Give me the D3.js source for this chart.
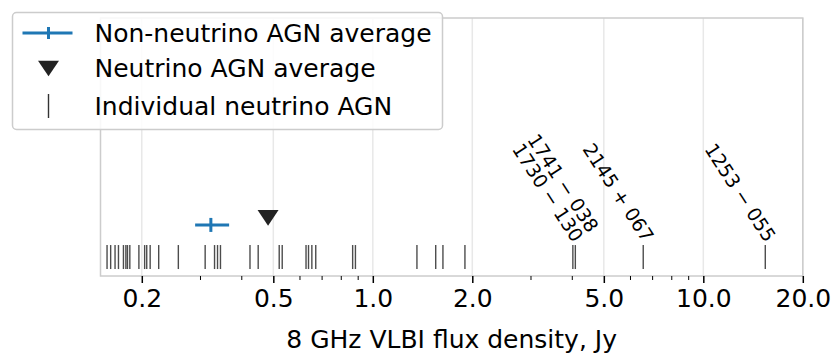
<!DOCTYPE html>
<html>
<head>
<meta charset="utf-8">
<script src="https://cdn.jsdelivr.net/npm/d3@7"></script>
<style>
  body { margin: 0; background: #fff; }
  svg { display: block; font-family: "DejaVu Sans", sans-serif; }
</style>
</head>
<body>
<svg id="chart"></svg>
<script>
// 8 GHz VLBI flux density of neutrino AGN

// individual neutrino AGN, Jy
const fluxes = [0.157, 0.161, 0.166, 0.170, 0.176, 0.179, 0.181, 0.184, 0.196, 0.204,
	0.207, 0.212, 0.225, 0.258, 0.311, 0.332, 0.339, 0.346, 0.425, 0.450,
	0.521, 0.532, 0.628, 0.639, 0.654, 0.672, 0.869, 0.886, 1.36, 1.55,
	1.63, 1.90, 4.03, 4.10, 6.58, 15.4];

// named sources
const labelNames = ["1730 \u2212 130", "1741 \u2212 038", "2145 + 067", "1253 \u2212 055"];
const labelFluxes = [4.03, 4.10, 6.58, 15.4];

// averages
const nonNuMean = 0.3236;
const nonNuErr = [0.290, 0.3675];
const nuMean = 0.482;

const tickValues = [0.2, 0.5, 1.0, 2.0, 5.0, 10.0, 20.0];
const minorTickValues = [0.3, 0.4, 0.6, 0.7, 0.8, 0.9, 3, 4, 6, 7, 8, 9];
const xDomain = [0.15, 20];

const legendLabels = ["Non-neutrino AGN average", "Neutrino AGN average", "Individual neutrino AGN"];

// y is only a dummy position axis
const yBar = [0.027, 0.12];
const yNonNu = 0.198;
const yNu = 0.225;
const yLabel = 0.126;

const width = 831, height = 354;
const margin = {left: 100.5, right: 28.2, top: 18, bottom: 78};

const svg = d3.select("#chart")
	.attr("width", width)
	.attr("height", height);

const x = d3.scaleLog()
	.domain(xDomain)
	.range([margin.left, width - margin.right]);

const y = d3.scaleLinear()
	.domain([0, 1])
	.range([height - margin.bottom, margin.top]);

const blue = "#1f77b4";

// downward triangle like matplotlib's 'v', a bit wider than tall
const triDown = {
	draw(ctx, size) {
		let w = Math.sqrt(size) / 2, h = w * 0.75;
		ctx.moveTo(-w, -h);
		ctx.lineTo(w, -h);
		ctx.lineTo(0, h);
		ctx.closePath();
	}
};
const tri = d3.symbol().type(triDown).size(440);

// grid
svg.append("g")
	.selectAll("line")
	.data(tickValues)
	.join("line")
	.attr("x1", d => x(d)).attr("x2", d => x(d))
	.attr("y1", y(0)).attr("y2", y(1))
	.attr("stroke", "#e8e8e8")
	.attr("stroke-width", 1.5);

// frame
svg.append("rect")
	.attr("x", x(xDomain[0]))
	.attr("y", y(1))
	.attr("width", x(xDomain[1]) - x(xDomain[0]))
	.attr("height", y(0) - y(1))
	.attr("fill", "none")
	.attr("stroke", "#cccccc")
	.attr("stroke-width", 1.5);

// axis
const xAxis = d3.axisBottom(x)
	.tickValues(tickValues)
	.tickFormat(d3.format(".1f"))
	.tickSize(7)
	.tickPadding(6);

const axisG = svg.append("g")
	.attr("transform", `translate(0,${y(0)})`)
	.call(xAxis);
axisG.select(".domain").remove();
axisG.selectAll(".tick line").attr("stroke", "#000").attr("stroke-width", 1.5);
axisG.selectAll(".tick text")
	.attr("font-size", 25)
	.attr("font-family", "DejaVu Sans")
	.attr("fill", "#000");

svg.append("g")
	.attr("transform", `translate(0,${y(0)})`)
	.call(d3.axisBottom(x).tickValues(minorTickValues).tickSize(4).tickFormat(""))
	.call(g => g.select(".domain").remove())
	.selectAll(".tick line").attr("stroke", "#000").attr("stroke-width", 1);

svg.append("text")
	.attr("x", (x(xDomain[0]) + x(xDomain[1])) / 2)
	.attr("y", 348)
	.attr("text-anchor", "middle")
	.attr("font-size", 25)
	.text("8 GHz VLBI flux density, Jy");

// individual neutrino AGN
svg.append("g")
	.selectAll("line")
	.data(fluxes)
	.join("line")
	.attr("x1", d => x(d)).attr("x2", d => x(d))
	.attr("y1", y(yBar[0])).attr("y2", y(yBar[1]))
	.attr("stroke", "#000")
	.attr("stroke-opacity", 0.7)
	.attr("stroke-width", 1.4);

// labels of the strongest ones
const labelNudge = {"1741 \u2212 038": {dx: -1, dy: -16}};
svg.append("g")
	.selectAll("text")
	.data(labelNames.map((n, i) => ({name: n, flux: labelFluxes[i]})))
	.join("text")
	.attr("transform", d => `translate(${x(d.flux)},${y(yLabel)}) rotate(57)`)
	.attr("x", d => labelNudge[d.name] ? labelNudge[d.name].dx : 0)
	.attr("y", d => labelNudge[d.name] ? labelNudge[d.name].dy : 0)
	.attr("text-anchor", "end")
	.attr("font-size", 19)
	.text(d => d.name);

// non-neutrino average with error bar
const avgG = svg.append("g");
avgG.append("line")
	.attr("x1", x(nonNuErr[0])).attr("x2", x(nonNuErr[1]))
	.attr("y1", y(yNonNu)).attr("y2", y(yNonNu))
	.attr("stroke", blue).attr("stroke-width", 3);
avgG.append("line")
	.attr("x1", x(nonNuMean)).attr("x2", x(nonNuMean))
	.attr("y1", y(yNonNu) - 7).attr("y2", y(yNonNu) + 7)
	.attr("stroke", blue).attr("stroke-width", 3);

// neutrino average
avgG.append("path")
	.attr("d", tri())
	.attr("transform", `translate(${x(nuMean)},${y(yNu)})`)
	.attr("fill", "#222");

// legend
const leg = svg.append("g").attr("transform", "translate(12.5,12.5)");
leg.append("rect")
	.attr("width", 430).attr("height", 117)
	.attr("rx", 4)
	.attr("fill", "#fff").attr("fill-opacity", 0.85)
	.attr("stroke", "#cccccc").attr("stroke-width", 1.5);

const rowY = [20.5, 56, 93.5];
leg.selectAll("text")
	.data(legendLabels)
	.join("text")
	.attr("x", 82)
	.attr("y", (d, i) => rowY[i])
	.attr("dy", "0.35em")
	.attr("font-size", 25)
	.text(d => d);

leg.append("line")
	.attr("x1", 10).attr("x2", 60)
	.attr("y1", rowY[0]).attr("y2", rowY[0])
	.attr("stroke", blue).attr("stroke-width", 3);
leg.append("line")
	.attr("x1", 36).attr("x2", 36)
	.attr("y1", rowY[0] - 6).attr("y2", rowY[0] + 6)
	.attr("stroke", blue).attr("stroke-width", 3);
leg.append("path")
	.attr("d", tri())
	.attr("transform", `translate(36,${rowY[1]})`)
	.attr("fill", "#222");
leg.append("line")
	.attr("x1", 36).attr("x2", 36)
	.attr("y1", rowY[2] - 12).attr("y2", rowY[2] + 12)
	.attr("stroke", "#000").attr("stroke-opacity", 0.8).attr("stroke-width", 1.4);
</script>
</body>
</html>
